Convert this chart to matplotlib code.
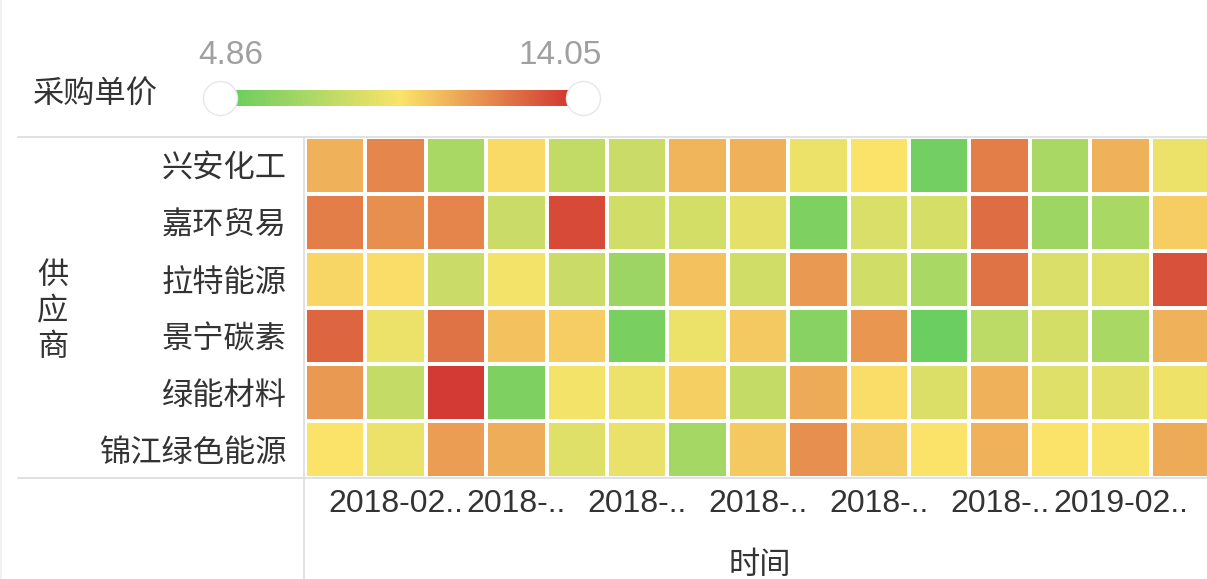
import numpy as np
import matplotlib
matplotlib.use('Agg')
import matplotlib.pyplot as plt
from matplotlib.colors import LinearSegmentedColormap, Normalize

# ---------------- data ----------------
suppliers = ['兴安化工', '嘉环贸易', '拉特能源', '景宁碳素', '绿能材料', '锦江绿色能源']
months = ['2018-01', '2018-02', '2018-03', '2018-04', '2018-05', '2018-06', '2018-07',
          '2018-08', '2018-09', '2018-10', '2018-11', '2018-12', '2019-01', '2019-02', '2019-03']
tick_labels = ['2018-02..', '2018-..', '2018-..', '2018-..', '2018-..', '2018-..', '2019-02..']
tick_months = ['2018-02', '2018-04', '2018-06', '2018-08', '2018-10', '2018-12', '2019-02']

price_xingan = [10.83, 11.94, 6.88, 9.73, 7.62, 7.89, 10.74, 10.83, 9.00, 9.46, 5.14, 12.21, 6.88, 10.83, 9.00]
price_jiahuan = [12.21, 11.75, 12.03, 7.89, 13.59, 8.08, 8.17, 8.72, 5.50, 8.35, 8.26, 12.67, 6.51, 6.88, 10.10]
price_late = [9.82, 9.64, 7.89, 9.18, 7.89, 6.42, 10.37, 8.08, 11.48, 8.08, 6.88, 12.49, 8.35, 8.54, 13.41]
price_jingning = [12.86, 9.00, 12.49, 10.37, 10.10, 5.32, 9.00, 10.19, 5.78, 11.57, 4.86, 7.43, 8.17, 6.88, 10.83]
price_lvneng = [11.48, 7.71, 14.05, 5.50, 9.18, 9.00, 10.01, 7.71, 11.02, 9.64, 8.44, 10.83, 8.54, 8.63, 9.09]
price_jinjiang = [9.46, 9.00, 11.38, 10.93, 8.54, 8.90, 6.70, 10.19, 11.75, 10.10, 9.46, 10.83, 9.46, 9.36, 11.02]

legend_title = '采购单价'
legend_min = 4.86
legend_max = 14.05
x_title = '时间'
y_title = '供应商'

# ---------------- style ----------------
W, H = 1207, 579
CJK = ['Noto Sans CJK SC', 'DejaVu Sans']
NUM = ['Liberation Sans', 'DejaVu Sans']
plt.rcParams['font.family'] = CJK

cmap = LinearSegmentedColormap.from_list(
    'gyr', [(0.0, '#6BCE60'), (0.5, '#FBE46A'), (1.0, '#D33A33')])
norm = Normalize(vmin=legend_min, vmax=legend_max)

fig = plt.figure(figsize=(W / 100, H / 100), dpi=100)
fig.patch.set_facecolor('white')

def px(x0, y0, x1, y1):
    return [x0 / W, 1 - y1 / H, (x1 - x0) / W, (y1 - y0) / H]

# ---------------- heatmap ----------------
data = np.array([price_xingan, price_jiahuan, price_late,
                 price_jingning, price_lvneng, price_jinjiang])
ncol = len(months)
cell_w = 60.4
ax = fig.add_axes(px(305, 137, 305 + cell_w * ncol, 478))
ax.pcolormesh(data, cmap=cmap, norm=norm, edgecolors='white', linewidth=1.6)
ax.set_xlim(0, ncol)
ax.set_ylim(len(suppliers), 0)
for s in ax.spines.values():
    s.set_visible(False)
ax.set_yticks(np.arange(len(suppliers)) + 0.5)
ax.set_yticklabels(suppliers, fontsize=22.5, color='#333333', family=CJK)
xt = [months.index(m) + 0.5 for m in tick_months]
ax.set_xticks(xt)
ax.set_xticklabels(tick_labels, fontsize=23, color='#333333', family=NUM)
ax.tick_params(axis='y', length=0, pad=13)
ax.tick_params(axis='x', length=0, pad=8)

# ---------------- legend colour bar ----------------
cax = fig.add_axes(px(233, 90, 568, 106))
grad = np.linspace(legend_min, legend_max, 256)[None, :]
cax.imshow(grad, aspect='auto', cmap=cmap, norm=norm, extent=[0, 1, 0, 1])
cax.set_axis_off()

# ---------------- overlay (lines, texts, handles) ----------------
ov = fig.add_axes([0, 0, 1, 1], zorder=10)
ov.set_xlim(0, W)
ov.set_ylim(H, 0)
ov.set_axis_off()
lc = '#dcdcdc'
ov.plot([18, W], [137, 137], color=lc, lw=1.2)
ov.plot([18, W], [478, 478], color=lc, lw=1.2)
ov.plot([304, 304], [137, H], color=lc, lw=1.2)
ov.plot([0.8, 0.8], [0, H], color='#efefef', lw=1.2)

ov.scatter([220, 583], [98, 98], s=600, facecolor='white', edgecolor='#e6e7ee',
           linewidth=1.0, zorder=5)
ov.text(231, 56, f'{legend_min:.2f}', fontsize=24, color='#a0a0a0', family=NUM,
        ha='center', va='center')
ov.text(560, 56, f'{legend_max:.2f}', fontsize=24, color='#a0a0a0', family=NUM,
        ha='center', va='center')
ov.text(33, 95, legend_title, fontsize=22.5, color='#333333', ha='left', va='center')

for i, ch in enumerate(y_title):
    ov.text(53, 275 + 36 * i, ch, fontsize=22.5, color='#333333', ha='center', va='center')

ov.text(760, 565, x_title, fontsize=22.5, color='#333333', ha='center', va='center')

fig.savefig('out.png', dpi=100, facecolor='white')
